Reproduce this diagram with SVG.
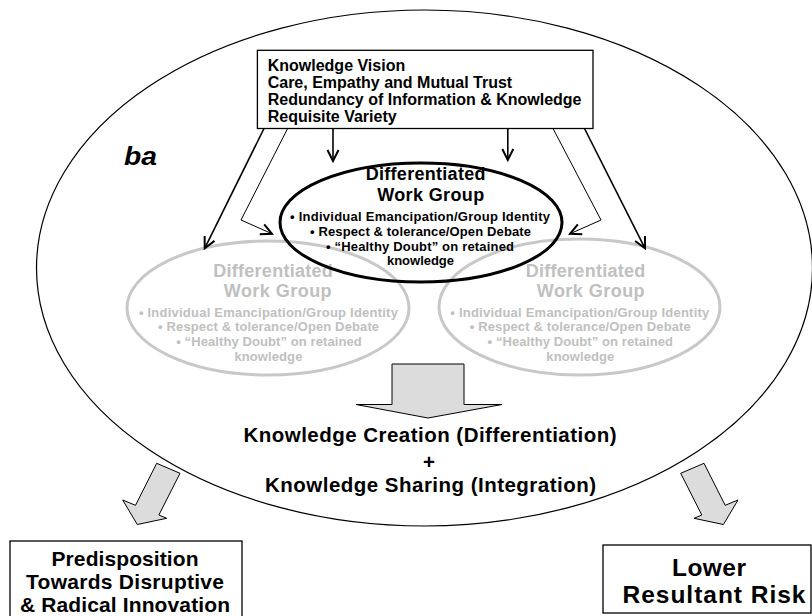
<svg xmlns="http://www.w3.org/2000/svg" width="812" height="616" viewBox="0 0 812 616">
  <style>
    text { font-family: "Liberation Sans", Arial, Helvetica, sans-serif; font-weight: bold; }
    .box { fill: #fff; stroke: #000; stroke-width: 1.3; }
    .ba { fill: none; stroke: #000; stroke-width: 1.2; }
    .grp { fill: none; stroke: #000; stroke-width: 3; }
    .grp-dim { fill: none; stroke: #c8c8c8; stroke-width: 3; }
    .dim { fill: #c0c0c0; }
    .ink { fill: #000; }
    .head { font-size: 18px; text-anchor: middle; }
    .bul { font-size: 13px; text-anchor: middle; }
    .wire { fill: none; stroke: #000; stroke-width: 1.6; marker-end: url(#chev); }
    .wire.thin { stroke-width: 1; }
    .block { fill: #dcdcdc; stroke: #000; stroke-width: 1; stroke-linejoin: miter; }
    .out { font-size: 20.5px; text-anchor: middle; }
    .res-l { font-size: 21px; text-anchor: middle; }
    .res-r { font-size: 24.5px; text-anchor: middle; }
  </style>
  <defs>
    <marker id="chev" viewBox="0 0 14 14" refX="12" refY="7" markerWidth="14" markerHeight="14" markerUnits="userSpaceOnUse" orient="auto">
      <path d="M1,1.5 L12,7 L1,12.5" fill="none" stroke="#000" stroke-width="2"/>
    </marker>
    <polygon id="diag-arrow" points="156.7,463.3 180,473.3 158.9,515 166.7,518.3 137.3,524.5 122.7,500 135.5,505.3"/>
  </defs>

  <!-- shared context "ba" enclosing everything -->
  <g id="ba">
    <ellipse class="ba" cx="424.5" cy="268" rx="388" ry="258"/>
    <text x="124" y="165" font-size="26" font-style="italic" textLength="33" lengthAdjust="spacingAndGlyphs">ba</text>
  </g>

  <!-- enabling conditions -->
  <g id="conditions">
    <rect class="box" x="257.4" y="50.3" width="335.6" height="78.2"/>
    <text x="267.7" y="70.5" font-size="16">Knowledge Vision</text>
    <text x="267.7" y="88" font-size="16">Care, Empathy and Mutual Trust</text>
    <text x="267.7" y="105" font-size="16">Redundancy of Information &amp; Knowledge</text>
    <text x="267.7" y="122" font-size="16">Requisite Variety</text>
  </g>

  <!-- faded work groups -->
  <g id="group-left">
    <ellipse class="grp-dim" cx="268" cy="308" rx="141" ry="67"/>
    <text class="head dim" x="273" y="277" textLength="119.5">Differentiated</text>
    <text class="head dim" x="277.7" y="297" textLength="107.8">Work Group</text>
    <text class="bul dim" x="268.4" y="316.5" textLength="259">• Individual Emancipation/Group Identity</text>
    <text class="bul dim" x="268.6" y="331.3" textLength="221">• Respect &amp; tolerance/Open Debate</text>
    <text class="bul dim" x="269" y="346" textLength="185.5">• “Healthy Doubt” on retained</text>
    <text class="bul dim" x="268.4" y="360.5" textLength="68">knowledge</text>
  </g>
  <g id="group-right">
    <ellipse class="grp-dim" cx="579.5" cy="307" rx="140.5" ry="68"/>
    <text class="head dim" x="585.5" y="277" textLength="119.5">Differentiated</text>
    <text class="head dim" x="590.7" y="297" textLength="107.8">Work Group</text>
    <text class="bul dim" x="579.8" y="316.5" textLength="259">• Individual Emancipation/Group Identity</text>
    <text class="bul dim" x="580.3" y="331.3" textLength="221">• Respect &amp; tolerance/Open Debate</text>
    <text class="bul dim" x="580.3" y="346" textLength="185.5">• “Healthy Doubt” on retained</text>
    <text class="bul dim" x="580.3" y="360.5" textLength="68">knowledge</text>
  </g>

  <!-- active work group -->
  <g id="group-center">
    <ellipse class="grp" cx="421" cy="222.5" rx="141" ry="59.5"/>
    <text class="head ink" x="425.6" y="180" textLength="119.7">Differentiated</text>
    <text class="head ink" x="430.7" y="201" textLength="107">Work Group</text>
    <text class="bul ink" x="420" y="221" textLength="260">• Individual Emancipation/Group Identity</text>
    <text class="bul ink" x="420.5" y="236" textLength="221">• Respect &amp; tolerance/Open Debate</text>
    <text class="bul ink" x="420" y="250.5" textLength="188">• “Healthy Doubt” on retained</text>
    <text class="bul ink" x="420.5" y="264.5" textLength="67">knowledge</text>
  </g>

  <!-- combined result -->
  <g id="outcome">
    <text class="out" x="430" y="442" textLength="373">Knowledge Creation (Differentiation)</text>
    <text class="out" x="429" y="469">+</text>
    <text class="out" x="430.5" y="492" textLength="331">Knowledge Sharing (Integration)</text>
  </g>

  <g id="innovation">
    <rect class="box" x="10" y="541" width="232" height="90"/>
    <text class="res-l" x="125" y="565.5" textLength="147">Predisposition</text>
    <text class="res-l" x="125" y="588.5" textLength="198">Towards Disruptive</text>
    <text class="res-l" x="125" y="611.5" textLength="210">&amp; Radical Innovation</text>
  </g>

  <g id="risk">
    <rect class="box" x="603" y="545" width="208" height="68"/>
    <text class="res-r" x="709" y="575.5" textLength="74">Lower</text>
    <text class="res-r" x="714" y="603" textLength="183">Resultant Risk</text>
  </g>

  <!-- connectors -->
  <g id="connectors">
    <line class="wire" x1="264" y1="128.5" x2="204.7" y2="248.3"/>
    <polyline class="wire thin" points="287.6,128.5 241,220 272,233.8"/>
    <line class="wire" x1="333" y1="128.5" x2="333" y2="161"/>
    <line class="wire" x1="507.8" y1="128.5" x2="507.8" y2="160"/>
    <polyline class="wire thin" points="553,128.5 601,220 570,233.8"/>
    <line class="wire" x1="584.5" y1="128.5" x2="645" y2="248.3"/>
    <polygon class="block" points="392,364 464,364 464,404.5 502,404.5 428,418 356,404.5 392,404.5"/>
    <use class="block" href="#diag-arrow"/>
    <use class="block" href="#diag-arrow" transform="translate(860.7,0) scale(-1,1)"/>
  </g>
</svg>
